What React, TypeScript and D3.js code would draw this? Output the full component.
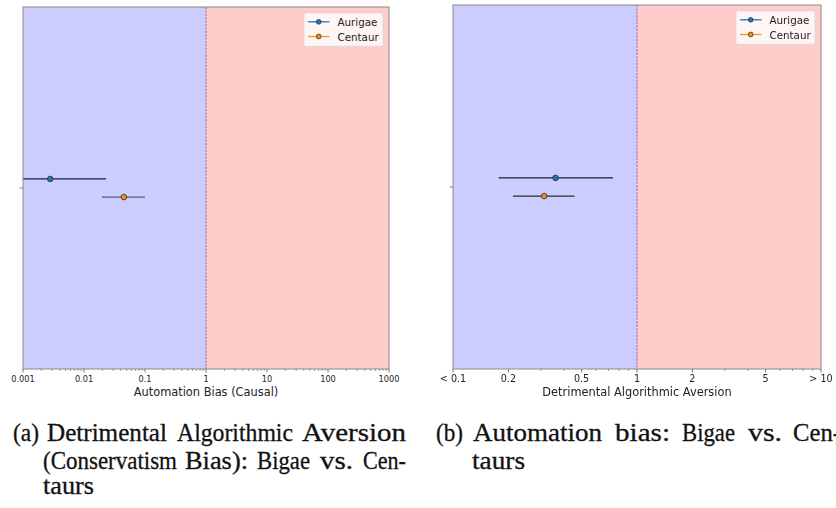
import React from 'react';
import * as d3 from 'd3';

// Groups compared in both panels
const groups = ['Aurigae', 'Centaur'];
const groupFill = ['#1f77b4', '#f0900e'];
const groupHandle = ['#1f77b4', '#f39a1e'];
const groupOffsets = [0.05, -0.05];

// Panel (a): automation bias (causal) — point estimate and interval
const biasPoint = [0.0028, 0.045];
const biasLow = [0.0006, 0.0197];
const biasHigh = [0.023, 0.1];
const biasTicks = [0.001, 0.01, 0.1, 1, 10, 100, 1000];
const biasTickLabels = ['0.001', '0.01', '0.1', '1', '10', '100', '1000'];

// Panel (b): detrimental algorithmic aversion — point estimate and interval
const aversionPoint = [0.361, 0.313];
const aversionLow = [0.177, 0.212];
const aversionHigh = [0.741, 0.458];
const aversionTicks = [0.1, 0.2, 0.5, 1, 2, 5, 10];
const aversionTickLabels = ['< 0.1', '0.2', '0.5', '1', '2', '5', '> 10'];

type PanelProps = {
  id: string;
  left: number;
  right: number;
  top: number;
  bottom: number;
  ticks: number[];
  tickLabels: string[];
  tickFont: number;
  label: string;
  point: number[];
  low: number[];
  high: number[];
  barColors: string[];
  blur?: boolean;
};

function minorTicks(domain: [number, number], majors: number[]) {
  const out: number[] = [];
  const e0 = Math.floor(Math.log10(domain[0]));
  const e1 = Math.ceil(Math.log10(domain[1]));
  for (let e = e0; e < e1; e++) {
    for (let k = 2; k <= 9; k++) {
      const v = k * Math.pow(10, e);
      if (v > domain[0] && v < domain[1] && !majors.some((m) => Math.abs(m - v) / v < 1e-6)) out.push(v);
    }
  }
  return out;
}

function Panel(p: PanelProps) {
  const domain: [number, number] = [p.ticks[0], p.ticks[p.ticks.length - 1]];
  const x = d3.scaleLog().domain(domain).range([p.left, p.right]);
  const y = d3.scaleLinear().domain([-1, 1]).range([p.bottom, p.top]);
  const minors = minorTicks(domain, p.ticks);
  const midX = (p.left + p.right) / 2;
  const clipId = `clip-${p.id}`;
  const legW = 79;
  const legH = 33.3;
  const legX = p.right - 6 - legW;
  const legY = p.top + 6;
  return (
    <g filter={p.blur ? 'url(#soft)' : undefined}>
      <defs>
        <clipPath id={clipId}>
          <rect x={p.left} y={p.top} width={p.right - p.left} height={p.bottom - p.top} />
        </clipPath>
      </defs>
      <rect x={x(domain[0])} y={p.top} width={x(1) - x(domain[0])} height={p.bottom - p.top} fill="#ccccff" />
      <rect x={x(1)} y={p.top} width={x(domain[1]) - x(1)} height={p.bottom - p.top} fill="#ffcccc" />
      <line x1={x(1)} x2={x(1)} y1={p.top} y2={p.bottom} stroke="#5a4a6a" strokeWidth={0.9} strokeDasharray="2.2,1.2" opacity={0.8} />
      <g clipPath={`url(#${clipId})`}>
        {groups.map((g, i) => (
          <g key={g}>
            <line
              x1={x(p.low[i])}
              x2={x(p.high[i])}
              y1={y(groupOffsets[i])}
              y2={y(groupOffsets[i])}
              stroke={p.barColors[i]}
              strokeWidth={1.3}
            />
            <circle cx={x(p.point[i])} cy={y(groupOffsets[i])} r={2.8} fill={groupFill[i]} stroke="#2a2a3a" strokeWidth={0.8} />
          </g>
        ))}
      </g>
      <rect x={p.left} y={p.top} width={p.right - p.left} height={p.bottom - p.top} fill="none" stroke="#8a8a8a" strokeWidth={1} />
      {/* y tick */}
      <line x1={p.left - 3.5} x2={p.left} y1={y(0)} y2={y(0)} stroke="#666" strokeWidth={0.8} />
      {/* x ticks */}
      {p.ticks.map((t, i) => (
        <g key={t}>
          <line x1={x(t)} x2={x(t)} y1={p.bottom} y2={p.bottom + 3.5} stroke="#555" strokeWidth={0.8} />
          <text x={x(t)} y={p.bottom + 12.7} textAnchor="middle" fontFamily="DejaVu Sans" fontSize={p.tickFont} fill="#222">
            {p.tickLabels[i]}
          </text>
        </g>
      ))}
      {minors.map((t) => (
        <line key={t} x1={x(t)} x2={x(t)} y1={p.bottom} y2={p.bottom + 2} stroke="#666" strokeWidth={0.6} />
      ))}
      <text x={midX} y={p.bottom + 26.7} textAnchor="middle" fontFamily="DejaVu Sans" fontSize={11.4} fill="#222">
        {p.label}
      </text>
      {/* legend */}
      <rect x={legX} y={legY} width={legW} height={legH} rx={2} fill="#ffffff" fillOpacity={0.8} stroke="#d8d8d8" strokeWidth={0.8} />
      {groups.map((g, i) => {
        const cy = legY + 8.8 + i * 14.7;
        return (
          <g key={g}>
            <line x1={legX + 4} x2={legX + 25.5} y1={cy} y2={cy} stroke={groupHandle[i]} strokeWidth={1.3} />
            <circle cx={legX + 14.7} cy={cy} r={2.4} fill={groupFill[i]} stroke="#2a2a3a" strokeWidth={0.7} />
            <text x={legX + 33.5} y={cy} dominantBaseline="central" fontFamily="DejaVu Sans" fontSize={10.3} fill="#222">
              {g}
            </text>
          </g>
        );
      })}
    </g>
  );
}

type Word = [string, number, number];

function Caption({ lines }: { lines: { y: number; words: Word[] }[] }) {
  return (
    <g fontFamily="Liberation Serif" fontSize={25} fill="#111" stroke="#111" strokeWidth={0.3}>
      {lines.map((ln, li) =>
        ln.words.map(([w, x0, x1], wi) => (
          <text key={`${li}-${wi}`} x={x0} y={ln.y} textLength={x1 - x0} lengthAdjust="spacingAndGlyphs">
            {w}
          </text>
        ))
      )}
    </g>
  );
}

export default function App() {
  const captionA = [
    { y: 441, words: [['(a)', 13, 39], ['Detrimental', 47, 167], ['Algorithmic', 177, 293], ['Aversion', 302, 406]] as Word[] },
    { y: 469, words: [['(Conservatism', 43, 177], ['Bias):', 185, 248], ['Bigae', 257, 310], ['vs.', 320, 353], ['Cen-', 363, 406]] as Word[] },
    { y: 494, words: [['taurs', 43, 94]] as Word[] },
  ];
  const captionB = [
    { y: 441, words: [['(b)', 436, 463], ['Automation', 473, 602], ['bias:', 615, 670], ['Bigae', 682, 735], ['vs.', 748, 782], ['Cen-', 793, 841]] as Word[] },
    { y: 469, words: [['taurs', 472, 525]] as Word[] },
  ];
  return (
    <svg width={836} height={508} style={{ position: 'absolute', left: 0, top: 0, display: 'block', background: '#fff' }}>
      <defs>
        <filter id="soft" x="-5%" y="-5%" width="110%" height="110%">
          <feGaussianBlur stdDeviation={0.55} />
        </filter>
      </defs>
      <rect width={836} height={508} fill="#fff" />
      <Panel
        id="a"
        left={23}
        right={389}
        top={7}
        bottom={369}
        ticks={biasTicks}
        tickLabels={biasTickLabels}
        tickFont={8.2}
        label="Automation Bias (Causal)"
        point={biasPoint}
        low={biasLow}
        high={biasHigh}
        barColors={['#1c1c44', '#5a5a66']}
      />
      <Panel
        id="b"
        left={453}
        right={821}
        top={5}
        bottom={369}
        ticks={aversionTicks}
        tickLabels={aversionTickLabels}
        tickFont={9.6}
        label="Detrimental Algorithmic Aversion"
        point={aversionPoint}
        low={aversionLow}
        high={aversionHigh}
        barColors={['#1c1c30', '#2a2a36']}
        blur
      />
      <Caption lines={captionA} />
      <Caption lines={captionB} />
    </svg>
  );
}
